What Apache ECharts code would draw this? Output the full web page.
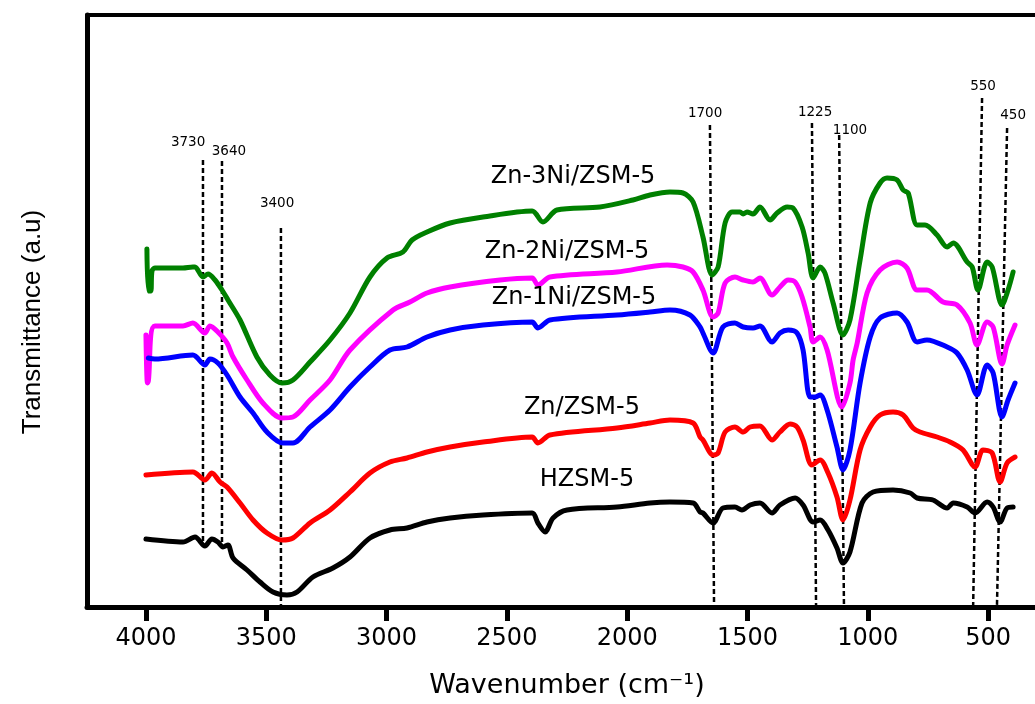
<!DOCTYPE html>
<html><head><meta charset="utf-8">
<script src="https://cdn.jsdelivr.net/npm/echarts@6/dist/echarts.min.js"></script>
<style>html,body{margin:0;padding:0;background:#fff}#c{width:1035px;height:704px}</style>
</head><body><div id="c"></div>
<script>
// x tick labels (wavenumber, cm-1)
const xTicks = [500, 1000, 1500, 2000, 2500, 3000, 3500, 4000];
const seriesNames = ['Zn-3Ni/ZSM-5', 'Zn-2Ni/ZSM-5', 'Zn-1Ni/ZSM-5', 'Zn/ZSM-5', 'HZSM-5'];
const seriesColors = ['#008000', '#ff00ff', '#0000ff', '#ff0000', '#000000'];

// [wavenumber, transmittance (a.u.)]
const zn3ni = [[3996,358],[3990,316],[3980,316],[3975,336],[3963,339],[3846,339],[3805,340],[3796,340],[3763,330],[3742,333],[3713,327],[3684,317],[3659,307],[3609,287],[3539,250],[3485,232],[3435,224],[3389,227],[3318,245],[3235,267],[3152,294],[3069,330],[2998,349],[2932,355],[2894,367],[2832,375],[2736,384],[2599,390],[2395,396],[2350,385],[2292,397],[2113,400],[1976,407],[1905,412],[1822,415],[1768,414],[1726,405],[1685,370],[1647,332],[1622,340],[1593,384],[1564,395],[1531,395],[1518,393],[1502,395],[1477,393],[1448,400],[1406,387],[1377,394],[1335,400],[1311,399],[1273,380],[1248,354],[1227,329],[1198,340],[1178,334],[1144,304],[1103,272],[1074,287],[1032,347],[990,404],[949,424],[920,429],[878,427],[853,417],[832,414],[795,382],[762,382],[712,372],[670,360],[645,364],[587,345],[566,340],[542,317],[504,345],[483,340],[442,302],[417,317],[396,335]];
const zn2ni = [[4000,272],[3994,224],[3990,226],[3963,281],[3846,281],[3805,284],[3755,274],[3734,281],[3701,275],[3663,264],[3638,250],[3580,227],[3514,204],[3435,189],[3389,190],[3318,207],[3235,227],[3152,257],[2973,297],[2903,305],[2832,314],[2736,320],[2528,327],[2395,329],[2371,322],[2321,330],[2042,335],[1834,342],[1768,340],[1726,335],[1685,317],[1643,290],[1622,294],[1593,324],[1552,330],[1518,327],[1477,325],[1448,329],[1398,312],[1365,320],[1331,327],[1302,325],[1273,310],[1240,280],[1227,265],[1198,270],[1169,257],[1107,200],[1074,224],[1061,247],[1044,264],[1003,314],[949,337],[878,345],[837,339],[795,317],[754,317],[687,305],[629,302],[575,284],[546,262],[504,285],[479,280],[442,243],[421,262],[388,282]];
const zn1ni = [[3990,249],[3963,248],[3805,252],[3755,242],[3734,248],[3701,244],[3663,232],[3609,210],[3555,194],[3497,175],[3431,164],[3389,164],[3318,180],[3235,197],[3152,220],[3069,240],[2986,257],[2915,260],[2832,270],[2736,277],[2599,282],[2395,285],[2371,279],[2321,287],[2042,292],[1905,295],[1822,297],[1739,292],[1697,280],[1685,274],[1643,254],[1602,280],[1552,284],[1518,280],[1477,279],[1448,281],[1398,265],[1365,274],[1331,277],[1294,274],[1269,257],[1240,210],[1219,210],[1198,212],[1169,197],[1128,160],[1103,137],[1074,157],[1032,224],[990,270],[949,289],[878,294],[837,285],[795,265],[754,267],[670,260],[629,254],[587,237],[546,212],[504,242],[479,234],[442,190],[417,207],[388,224]];
const zn = [[4000,132],[3805,135],[3755,127],[3726,134],[3692,125],[3663,120],[3609,104],[3555,87],[3497,74],[3435,67],[3389,69],[3318,84],[3235,97],[3152,115],[3069,134],[2986,145],[2915,149],[2832,155],[2736,160],[2599,165],[2395,170],[2371,164],[2321,172],[2042,179],[1905,184],[1822,187],[1726,184],[1697,170],[1685,167],[1643,152],[1622,154],[1593,175],[1552,180],[1518,175],[1489,180],[1448,181],[1398,167],[1365,175],[1323,183],[1294,180],[1269,167],[1232,142],[1198,147],[1165,134],[1128,110],[1103,87],[1074,107],[1032,157],[990,180],[949,192],[895,195],[853,192],[812,179],[783,175],[712,170],[658,165],[604,157],[554,140],[521,157],[483,154],[450,125],[421,144],[388,150]];
const hzsm5 = [[4000,68],[3846,65],[3796,70],[3755,61],[3726,68],[3701,65],[3680,60],[3659,62],[3638,49],[3580,37],[3526,25],[3472,15],[3414,12],[3372,15],[3306,30],[3223,39],[3152,50],[3069,69],[2986,77],[2915,79],[2832,85],[2736,89],[2599,92],[2395,94],[2371,84],[2341,75],[2308,89],[2250,97],[2042,100],[1905,104],[1822,105],[1726,104],[1697,95],[1685,94],[1643,84],[1602,99],[1552,100],[1523,97],[1489,102],[1448,104],[1398,94],[1365,102],[1302,109],[1269,102],[1227,85],[1198,87],[1165,77],[1128,59],[1103,44],[1074,55],[1024,104],[978,115],[895,117],[824,114],[795,109],[729,107],[670,99],[645,104],[587,100],[554,94],[504,105],[479,100],[450,85],[421,99],[396,100]];
const curves = [zn3ni, zn2ni, zn1ni, zn, hzsm5];
const nameLabelPos = [[2225,430],[2250,355],[2221,309],[2188,199],[2167,127]];

// marked bands (dotted guide lines)
const peakLabels = ['3730','3640','3400','1700','1225','1100','550','450'];
const peakTop = [[3763,447],[3684,446],[3439,379],[1656,482],[1232,484],[1119,472],[525,509],[421,479]];
const peakBottom = [[3763,65],[3684,65],[3439,2],[1639,5],[1215,2],[1099,2],[562,2],[463,2]];
const peakLabelPos = [[3825,465],[3655,456],[3455,404],[1676,494],[1219,495],[1074,477],[521,521],[396,492]];

const X_MIN = 305, X_MAX = 4245;
const FONT = 'DejaVu Sans';

const series = [];
peakLabels.forEach((p, i) => {
  series.push({
    type: 'line', data: [peakTop[i], peakBottom[i]], showSymbol: false, silent: true, z: 1,
    lineStyle: { color: '#000', width: 2.5, type: [5, 3] }
  });
});
curves.forEach((d, i) => {
  series.push({
    type: 'line', name: seriesNames[i], data: d, showSymbol: false, smooth: 0.3, z: 3,
    lineStyle: { color: seriesColors[i], width: 5, cap: 'round', join: 'round' }
  });
});
const textSeries = (names, pos, size) => ({
  type: 'scatter', symbolSize: 1, z: 5, silent: true,
  itemStyle: { color: 'rgba(0,0,0,0)', opacity: 1 },
  data: names.map((n, i) => ({ value: pos[i], name: n })),
  label: { show: true, position: 'inside', formatter: q => q.name, color: '#000', opacity: 1,
    textBorderWidth: 0, fontFamily: FONT, fontSize: size }
});
series.push(textSeries(peakLabels, peakLabelPos, 13.5));
series.push(textSeries(seriesNames, nameLabelPos, 24));

const chart = echarts.init(document.getElementById('c'), null, { renderer: 'canvas' });
chart.setOption({
  animation: false,
  backgroundColor: '#fff',
  grid: { left: 87, right: 0, top: 15, bottom: 97 },
  xAxis: [{
    type: 'value', min: X_MIN, max: X_MAX, inverse: true,
    axisLine: { show: true, lineStyle: { color: '#000', width: 5 } },
    axisTick: { show: true, customValues: xTicks, length: 14, lineStyle: { color: '#000', width: 5 } },
    axisLabel: { show: true, customValues: xTicks, margin: 20, color: '#000', fontFamily: FONT, fontSize: 24,
      formatter: v => String(v) },
    splitLine: { show: false }
  }, {
    type: 'value', min: X_MIN, max: X_MAX, inverse: true, position: 'top',
    axisLine: { show: true, lineStyle: { color: '#000', width: 4 } },
    axisTick: { show: false }, axisLabel: { show: false }, splitLine: { show: false }
  }],
  yAxis: {
    type: 'value', min: 0, max: 592,
    axisLine: { show: true, lineStyle: { color: '#000', width: 5 } },
    axisTick: { show: false }, axisLabel: { show: false }, splitLine: { show: false }
  },
  graphic: [{
    type: 'text', x: 33, y: 322, rotation: Math.PI / 2,
    style: { text: 'Transmittance (a.u)', font: '26px "Liberation Sans", Arial, sans-serif', fill: '#000',
      align: 'center', verticalAlign: 'middle', textAlign: 'center', textVerticalAlign: 'middle' }
  }, {
    type: 'text', x: 567, y: 686,
    style: { text: 'Wavenumber (cm\u207B\u00B9)', font: '27px "DejaVu Sans", sans-serif', fill: '#000',
      align: 'center', verticalAlign: 'middle', textAlign: 'center', textVerticalAlign: 'middle' }
  }],
  series: series
});
</script></body></html>
